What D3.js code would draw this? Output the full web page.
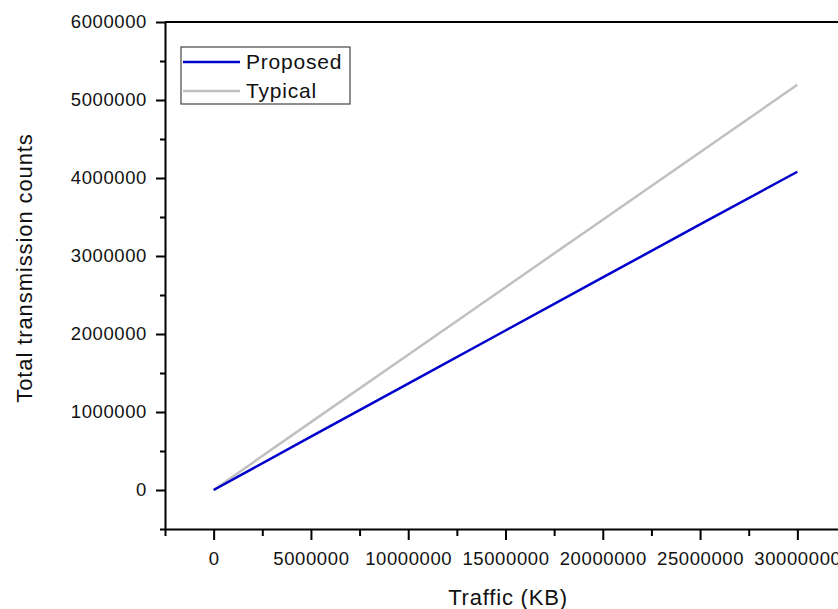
<!DOCTYPE html>
<html lang="en">
<head>
    <meta charset="UTF-8">
    <title>Total transmission counts</title>
    <script src="https://d3js.org/d3.v7.min.js"></script>
    <style>
        body { margin: 0; background: #fff; }
        text { font-family: "Liberation Sans", Arial, sans-serif; fill: #111; }
    </style>
</head>
<body>
    <svg id="chart" width="838" height="609"></svg>

    <script>
        // Datos
        const traffic  = [0, 5000000, 10000000, 15000000, 20000000, 25000000, 30000000];
        const proposed = [0, 685000, 1365000, 2045000, 2725000, 3405000, 4080000];
        const typical  = [0, 870000, 1735000, 2600000, 3465000, 4330000, 5195000];
        const seriesNames = ["Proposed", "Typical"];
        const seriesColors = ["#0000cc", "#c0c0c0"];
        const xMajor = [0, 5000000, 10000000, 15000000, 20000000, 25000000, 30000000];
        const yMajor = [0, 1000000, 2000000, 3000000, 4000000, 5000000, 6000000];

        const svg = d3.select("#chart");
        const plotLeft = 165, plotTop = 22, plotBottom = 529, plotRight = 846;

        // Escalas
        const x = d3.scaleLinear().domain([-2500000, 32500000]).range([plotLeft, plotRight]);
        const y = d3.scaleLinear().domain([-500000, 6000000]).range([plotBottom, plotTop]);

        const xMinor = xMajor.map(v => v - 2500000).concat([32500000]);
        const yMinor = yMajor.slice(0, -1).map(v => v - 500000).concat([5500000]);

        // Ejes menores
        svg.append("g")
           .attr("transform", `translate(0,${plotBottom})`)
           .call(d3.axisBottom(x).tickValues(xMinor).tickSize(7).tickFormat(""))
           .call(g => g.select(".domain").remove())
           .selectAll("line").attr("stroke-width", 2);
        svg.append("g")
           .attr("transform", `translate(${plotLeft},0)`)
           .call(d3.axisLeft(y).tickValues(yMinor).tickSize(5).tickFormat(""))
           .call(g => g.select(".domain").remove())
           .selectAll("line").attr("stroke-width", 2);

        // Ejes principales
        const xAxis = svg.append("g")
           .attr("transform", `translate(0,${plotBottom})`)
           .call(d3.axisBottom(x).tickValues(xMajor).tickSize(11).tickSizeOuter(0).tickPadding(12).tickFormat(d3.format("d")));
        const yAxis = svg.append("g")
           .attr("transform", `translate(${plotLeft},0)`)
           .call(d3.axisLeft(y).tickValues(yMajor).tickSize(9).tickSizeOuter(0).tickPadding(9).tickFormat(d3.format("d")));
        [xAxis, yAxis].forEach(g => {
            g.select(".domain").attr("stroke-width", 2);
            g.selectAll("line").attr("stroke-width", 2);
            g.selectAll("text")
             .attr("font-size", 18.5)
             .attr("letter-spacing", 0.6)
             .attr("font-family", "Liberation Sans, Arial, sans-serif")
             .attr("fill", "#111");
        });

        // Borde superior
        svg.append("line")
           .attr("x1", plotLeft).attr("x2", plotRight)
           .attr("y1", y(6000000)).attr("y2", y(6000000))
           .attr("stroke", "#000").attr("stroke-width", 2);

        // Lineas (la azul encima)
        const line = d3.line()
                       .x((d, j) => x(traffic[j]))
                       .y(d => y(d));
        [typical, proposed].forEach(vals => {
            const i = vals === proposed ? 0 : 1;
            svg.append("path")
               .datum(vals)
               .attr("fill", "none")
               .attr("stroke", seriesColors[i])
               .attr("stroke-width", 2.5)
               .attr("d", line);
        });

        // Titulos
        svg.append("text")
           .attr("x", 508).attr("y", 605)
           .attr("text-anchor", "middle")
           .attr("font-size", 22)
           .attr("letter-spacing", 0.8)
           .text("Traffic (KB)");
        svg.append("text")
           .attr("transform", "translate(32,268) rotate(-90)")
           .attr("text-anchor", "middle")
           .attr("font-size", 22)
           .attr("letter-spacing", 0.9)
           .text("Total transmission counts");

        // Leyenda
        const legend = svg.append("g");
        legend.append("rect")
              .attr("x", 181).attr("y", 47).attr("width", 169).attr("height", 57)
              .attr("fill", "#fff").attr("stroke", "#444").attr("stroke-width", 1.2);
        seriesNames.forEach((name, i) => {
            const ly = 62 + i * 29;
            legend.append("line")
                  .attr("x1", 183).attr("x2", 240).attr("y1", ly).attr("y2", ly)
                  .attr("stroke", seriesColors[i]).attr("stroke-width", 2.5);
            legend.append("text")
                  .attr("x", 246).attr("y", ly + 7)
                  .attr("font-size", 21)
                  .attr("letter-spacing", 0.8)
                  .text(name);
        });
    </script>
</body>
</html>
